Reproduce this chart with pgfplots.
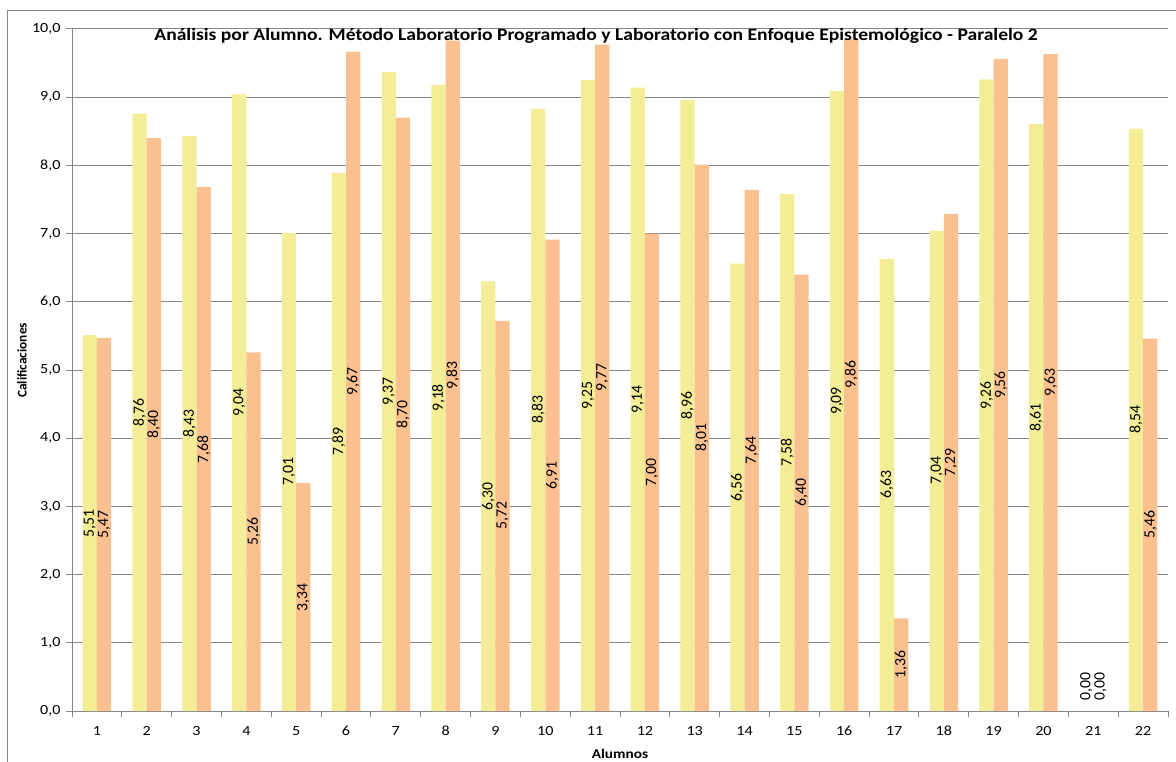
\documentclass[border=0pt]{standalone}
\usepackage{pgfplots}
\pgfplotsset{compat=1.18}
\usepackage{fontspec}
\setmainfont{Carlito}
\definecolor{cy}{RGB}{242,237,150}
\definecolor{co}{RGB}{250,192,144}
\definecolor{gr}{RGB}{134,134,134}
\begin{document}
\begin{tikzpicture}
\path[use as bounding box] (-54pt,-37.5pt) rectangle (828pt,533.25pt);
\draw[gr, line width=0.75pt] (-48pt,-60pt) -- (-48pt,525pt) -- (850pt,525pt);
\begin{axis}[
  at={(0,0)}, anchor=south west,
  scale only axis, width=822pt, height=511.5pt,
  xmin=0.5, xmax=22.5, ymin=0, ymax=10,
  axis x line*=bottom, axis y line*=left,
  axis line style={gr, line width=0.75pt},
  ybar=0pt, bar width=10.7pt,
  xtick={0.5,1.5,...,22.5}, x tick label as interval,
  xticklabels={1,2,3,4,5,6,7,8,9,10,11,12,13,14,15,16,17,18,19,20,21,22},
  ytick={0,1,...,10},
  yticklabel={\pgfmathprintnumber[fixed,fixed zerofill,precision=1,use comma,assume math mode=true]{\tick}},
  ymajorgrids, grid style={gr, line width=0.75pt},
  tick align=outside, major tick length=4.5pt,
  tick style={gr, line width=0.75pt},
  ticklabel style={font=\fontsize{10.5}{12}\selectfont, xscale=1.15, text=black},
  xticklabel style={yshift=-3.5pt},
  nodes near coords={\pgfmathprintnumber[fixed,fixed zerofill,precision=2,use comma,assume math mode=true]{\pgfplotspointmeta}},
  visualization depends on={y \as \rawy},
  every node near coord/.append style={shift={(axis direction cs:0,-\rawy/2)}, rotate=90, anchor=center, font=\fontsize{11.8}{13}\selectfont, text=black, inner sep=0pt},
]
\addplot[fill=cy, draw=none, bar shift=-5.35pt] coordinates {
(1,5.51) (2,8.76) (3,8.43) (4,9.04) (5,7.01) (6,7.89) (7,9.37) (8,9.18) (9,6.30) (10,8.83) (11,9.25)
(12,9.14) (13,8.96) (14,6.56) (15,7.58) (16,9.09) (17,6.63) (18,7.04) (19,9.26) (20,8.61) (22,8.54)};
\addplot[fill=co, draw=none, bar shift=5.35pt] coordinates {
(1,5.47) (2,8.40) (3,7.68) (4,5.26) (5,3.34) (6,9.67) (7,8.70) (8,9.83) (9,5.72) (10,6.91) (11,9.77)
(12,7.00) (13,8.01) (14,7.64) (15,6.40) (16,9.86) (17,1.36) (18,7.29) (19,9.56) (20,9.63) (22,5.46)};
\addplot[fill=none, draw=none, bar shift=-5.35pt, every node near coord/.append style={anchor=west, xshift=8pt}] coordinates {(21,0)};
\addplot[fill=none, draw=none, bar shift=5.35pt, every node near coord/.append style={anchor=west, xshift=8pt}] coordinates {(21,0)};
\end{axis}
\node[font=\bfseries\fontsize{13}{15}\selectfont, xscale=1.13] at (393pt,506pt) {Análisis por Alumno. Método Laboratorio Programado y Laboratorio con Enfoque Epistemológico - Paralelo 2};
\node[font=\bfseries\fontsize{10}{12}\selectfont, rotate=90] at (-37.5pt,263pt) {Calificaciones};
\node[font=\bfseries\fontsize{10}{12}\selectfont, xscale=1.15] at (411pt,-32pt) {Alumnos};
\end{tikzpicture}
\end{document}
